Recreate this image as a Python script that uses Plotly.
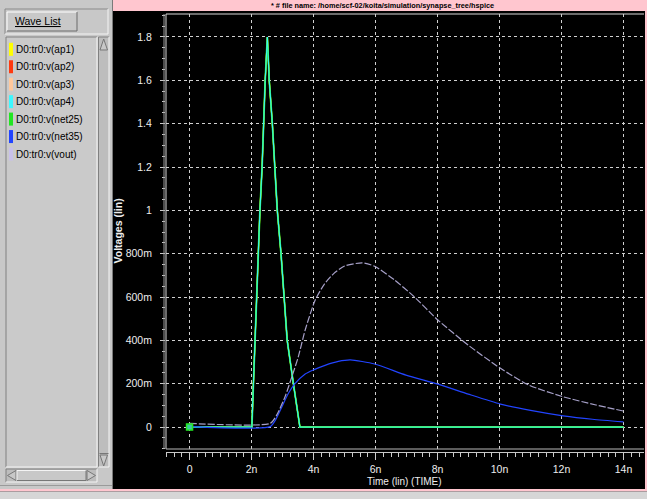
import plotly.graph_objects as go

# ---------------- data (time in ns, voltage in V) ----------------
pulse_t = [0.0, 2.01, 2.06, 2.11, 2.17, 2.23, 2.27, 2.34, 2.38, 2.44, 2.51,
           2.57, 2.67, 2.74, 2.83, 2.95, 3.06, 3.15, 3.35, 3.56, 14.0]
pulse_v = [0.0, 0.0, 0.2, 0.4, 0.6, 0.8, 1.0, 1.2, 1.4, 1.6, 1.8,
           1.6, 1.4, 1.2, 1.0, 0.8, 0.6, 0.4, 0.2, 0.0, 0.0]

vout_t = [0.0, 2.6, 2.81, 3.08, 3.3, 3.51, 3.73, 4.05, 4.35, 4.65, 5.0, 5.57,
          5.97, 6.6, 7.25, 8.01, 8.99, 10.03, 10.94, 12.05, 13.11, 14.0]
vout_v = [0.017, 0.017, 0.055, 0.14, 0.232, 0.325, 0.448, 0.585, 0.66, 0.708, 0.743, 0.758,
          0.742, 0.68, 0.601, 0.494, 0.378, 0.271, 0.194, 0.14, 0.102, 0.074]

net35_t = [0.0, 2.6, 2.77, 2.98, 3.19, 3.4, 3.73, 4.0, 4.37, 4.8, 5.19, 5.97,
           6.98, 8.01, 8.99, 10.03, 11.0, 12.05, 13.0, 14.0]
net35_v = [0.002, 0.002, 0.032, 0.094, 0.156, 0.2, 0.245, 0.264, 0.285, 0.303, 0.31, 0.291,
           0.24, 0.198, 0.152, 0.106, 0.077, 0.052, 0.036, 0.024]

wave_names = ["D0:tr0:v(ap1)", "D0:tr0:v(ap2)", "D0:tr0:v(ap3)", "D0:tr0:v(ap4)",
              "D0:tr0:v(net25)", "D0:tr0:v(net35)", "D0:tr0:v(vout)"]
wave_colors = ["#ffff00", "#ff3a10", "#ffc89c", "#3cf8ff", "#22e622", "#2244ff", "#c8c0ea"]

x_ticks = [0, 2, 4, 6, 8, 10, 12, 14]
x_labels = ["0", "2n", "4n", "6n", "8n", "10n", "12n", "14n"]
y_ticks = [0, 0.2, 0.4, 0.6, 0.8, 1.0, 1.2, 1.4, 1.6, 1.8]
y_labels = ["0", "200m", "400m", "600m", "800m", "1", "1.2", "1.4", "1.6", "1.8"]

title_text = "* # file name: /home/scf-02/koita/simulation/synapse_tree/hspice"

# ---------------- layout geometry ----------------
W, H = 647, 499
L, R, T, B = 166, 644, 14, 452
SANS = "Liberation Sans, Arial, Helvetica, sans-serif"


def xp(px):
    return (px - L) / (R - L)


def yp(py):
    return (B - py) / (B - T)


shapes = []
annotations = []


def rect(x0, y0, x1, y1, fill, lc=None, lw=0):
    shapes.append(dict(type="rect", xref="paper", yref="paper", layer="above",
                       x0=xp(x0), x1=xp(x1), y0=yp(y1), y1=yp(y0),
                       fillcolor=fill, line=dict(color=lc or fill, width=lw)))


def line(x0, y0, x1, y1, color, width=1, dash=None):
    d = dict(color=color, width=width)
    if dash:
        d["dash"] = dash
    shapes.append(dict(type="line", xref="paper", yref="paper", layer="above",
                       x0=xp(x0), x1=xp(x1), y0=yp(y0), y1=yp(y1), line=d))


def bevel(x0, y0, x1, y1, tl, br):
    line(x0, y0, x1, y0, tl)
    line(x0, y0, x0, y1, tl)
    line(x0, y1, x1, y1, br)
    line(x1, y0, x1, y1, br)


def poly(pts, fill, lc):
    path = "M " + " L ".join(f"{xp(a):.5f},{yp(b):.5f}" for a, b in pts) + " Z"
    shapes.append(dict(type="path", xref="paper", yref="paper", layer="above",
                       path=path, fillcolor=fill, line=dict(color=lc, width=1)))


PANEL = "#c8c8c8"
# left panel
rect(0, 0, 112, 489, PANEL)
line(112.5, 0, 112.5, 489, "#7a7a7a")
# button frame
bevel(5, 9, 108, 34, "#8a8a8a", "#f4f4f4")
# Wave List button
rect(7, 12, 77, 31, PANEL)
bevel(7, 12, 77, 31, "#ffffff", "#6a6a6a")
annotations.append(dict(xref="paper", yref="paper", x=xp(12.5), y=yp(21.5), xanchor="left",
                        yanchor="middle", showarrow=False, text="<u>Wave List</u>",
                        font=dict(family=SANS, size=10.5, color="#000000")))
# list box
rect(6, 37, 97, 467, "#cacaca")
bevel(6, 37, 97, 467, "#808080", "#f4f4f4")
# vertical scrollbar
rect(98.5, 37, 109, 467, "#bdbdbd")
bevel(98.5, 37, 109, 467, "#808080", "#f4f4f4")
poly([(100, 50), (103.7, 39), (107.5, 50)], PANEL, "#777777")
poly([(100, 455), (103.7, 466), (107.5, 455)], PANEL, "#777777")
line(99.5, 453.5, 108.5, 453.5, "#777777")
# horizontal scrollbar
rect(6, 469, 97, 482, "#bdbdbd")
bevel(6, 469, 97, 482, "#808080", "#f4f4f4")
poly([(16, 470.5), (7.5, 475.5), (16, 480.5)], PANEL, "#777777")
poly([(87, 470.5), (95.5, 475.5), (87, 480.5)], PANEL, "#777777")
rect(17, 470.5, 86, 480.5, PANEL)
bevel(17, 470.5, 86, 480.5, "#f4f4f4", "#777777")
line(0, 485.5, 112, 485.5, "#9a9a9a")

# legend entries
for i, (nm, col) in enumerate(zip(wave_names, wave_colors)):
    yc = 49.3 + i * 17.45
    rect(9, yc - 6.5, 13, yc + 6.5, col)
    annotations.append(dict(xref="paper", yref="paper", x=xp(14), y=yp(yc), xanchor="left",
                            yanchor="middle", showarrow=False, text=nm,
                            font=dict(family=SANS, size=10, color="#000000")))

# top title bar and borders
rect(113, 0, 647, 11, "#ffc6cf")
annotations.append(dict(xref="paper", yref="paper", x=xp(382), y=yp(5.5), xanchor="center",
                        yanchor="middle", showarrow=False, text="<b>" + title_text + "</b>",
                        font=dict(family=SANS, size=7.3, color="#000000")))
rect(645, 0, 647, 491, "#ffc6cf")
rect(0, 489, 647, 491.5, "#ffc6cf")
rect(0, 491.5, 647, 499, "#d6d6d6")

# plot frame
line(164, 14, 164, 449, "#9a9a9a")
line(166, 14, 166, 449, "#d8d8d8")
line(166, 14, 644, 14, "#d8d8d8")
line(166, 449, 644, 449, "#b8b8b8")

# axis titles
annotations.append(dict(xref="paper", yref="paper", x=xp(404), y=yp(481), xanchor="center",
                        yanchor="middle", showarrow=False, text="Time (lin) (TIME)",
                        font=dict(family=SANS, size=10, color="#eeeeee")))
annotations.append(dict(xref="paper", yref="paper", x=xp(117.5), y=yp(231), xanchor="center",
                        yanchor="middle", showarrow=False, text="<b>Voltages (lin)</b>",
                        textangle=-90, font=dict(family=SANS, size=10.5, color="#eeeeee")))

# ---------------- traces ----------------
fig = go.Figure()
# overlapping pulse waveforms: bottom-most first (cyan ap4 ends up on top)
pulse_styles = [(1, "solid", 1.2), (2, "solid", 1.2), (0, "solid", 1.2),
                (4, "solid", 1.8), (3, "solid", 1.0)]
for idx, dash, w in pulse_styles:
    fig.add_trace(go.Scatter(x=pulse_t, y=pulse_v, mode="lines", name=wave_names[idx],
                             line=dict(color=wave_colors[idx], width=w, dash=dash),
                             hoverinfo="skip"))
fig.add_trace(go.Scatter(x=net35_t, y=net35_v, mode="lines", name=wave_names[5],
                         line=dict(color=wave_colors[5], width=1.2, shape="spline", smoothing=0.6)))
fig.add_trace(go.Scatter(x=vout_t, y=vout_v, mode="lines", name=wave_names[6],
                         line=dict(color="#a6a0c8", width=1.2, dash="7px,2px",
                                   shape="spline", smoothing=0.6)))
# start markers
fig.add_trace(go.Scatter(x=[pulse_t[0]], y=[pulse_v[0]], mode="markers",
                         marker=dict(symbol="square", size=6, color="#3cc8a0",
                                     line=dict(color="#22e622", width=1.5))))

grid = dict(showgrid=True, gridcolor="#d0d0d0", gridwidth=1, griddash="3px,3px", zeroline=False)
tickfont = dict(family=SANS, size=10.5, color="#eeeeee")
fig.update_layout(
    width=W, height=H, autosize=False,
    margin=dict(l=L, r=W - R, t=T, b=H - B, pad=0),
    paper_bgcolor="#000000", plot_bgcolor="#000000",
    showlegend=False, hovermode=False,
    xaxis=dict(range=[-0.76, 14.66], tickvals=x_ticks, ticktext=x_labels,
               ticks="outside", ticklen=7, tickcolor="#cccccc", tickwidth=1,
               showline=True, linecolor="#c8c8c8", linewidth=1,
               minor=dict(dtick=0.25, tick0=0, ticks="outside", ticklen=4,
                          tickcolor="#cccccc", showgrid=False),
               tickfont=tickfont, **grid),
    yaxis=dict(range=[-0.115, 1.906], tickvals=y_ticks, ticktext=y_labels,
               ticks="outside", ticklen=5, tickcolor="#cccccc", tickwidth=1,
               showline=False, ticklabelstandoff=6,
               minor=dict(dtick=0.05, tick0=0, ticks="outside", ticklen=3,
                          tickcolor="#cccccc", showgrid=False),
               tickfont=tickfont, **grid),
    shapes=shapes, annotations=annotations,
)

fig.write_html("out.html", config={"displayModeBar": False, "staticPlot": True},
               post_script="document.body.style.margin='0';document.body.style.background='#000';")
